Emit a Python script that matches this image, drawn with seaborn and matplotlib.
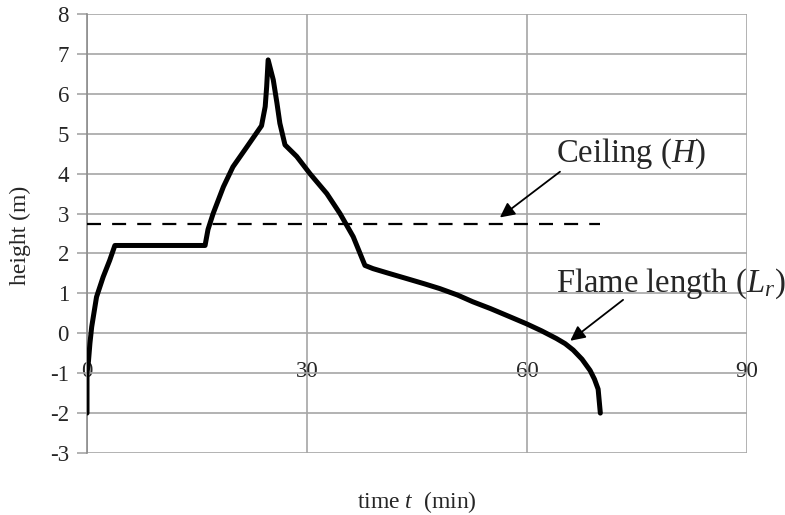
import matplotlib
matplotlib.use("Agg")
import matplotlib.pyplot as plt
import seaborn as sns
import pandas as pd

# ---- data ----
time_min = [0.0, 0.0, 0.2, 0.4, 0.64, 1.3, 2.2, 3.1, 3.8, 16.1, 16.5, 17.2, 18.6, 19.9, 21.8,
            23.8, 24.3, 24.5, 24.7, 25.4, 25.9, 26.3, 27.0, 28.6, 30.4, 32.7, 34.5, 36.3,
            37.9, 39.0, 41.0, 43.6, 46.0, 48.1, 50.5, 52.6, 55.0, 57.2, 59.9, 62.0, 64.0,
            65.2, 66.3, 67.5, 68.6, 69.2, 69.7, 70.0]
flame_length = [-2.0, -1.0, -0.7, -0.25, 0.16, 0.91, 1.41, 1.83, 2.2, 2.2, 2.6, 3.0, 3.67, 4.17, 4.67,
                5.2, 5.68, 6.18, 6.85, 6.35, 5.77, 5.26, 4.72, 4.43, 4.0, 3.5, 3.0, 2.42,
                1.7, 1.62, 1.51, 1.37, 1.24, 1.12, 0.96, 0.79, 0.62, 0.45, 0.24, 0.06, -0.13,
                -0.26, -0.42, -0.65, -0.93, -1.15, -1.4, -2.0]
ceiling_time = [0.0, 70.0]
ceiling_height = [2.73, 2.73]
x_ticks = [0, 30, 60, 90]
x_tick_labels = ["0", "30", "60", "90"]
y_ticks = [-3, -2, -1, 0, 1, 2, 3, 4, 5, 6, 7, 8]
y_tick_labels = ["-3", "-2", "-1", "0", "1", "2", "3", "4", "5", "6", "7", "8"]

sns.set_theme(style="white")
plt.rcParams["font.family"] = ["Liberation Serif", "DejaVu Serif"]
plt.rcParams["mathtext.fontset"] = "custom"
plt.rcParams["mathtext.rm"] = "Liberation Serif"
plt.rcParams["mathtext.it"] = "Liberation Serif:italic"

fig = plt.figure(figsize=(7.85, 5.15), dpi=100)
ax = fig.add_axes([87 / 785, 1 - 453 / 515, 660 / 785, 439 / 515])

grid_c = "#a6a6a6"
df = pd.DataFrame({"t": time_min, "h": flame_length})
sns.lineplot(data=df, x="t", y="h", sort=False, estimator=None, color="black",
             linewidth=3.6, ax=ax, zorder=5)
dfc = pd.DataFrame({"t": ceiling_time, "h": ceiling_height})
sns.lineplot(data=dfc, x="t", y="h", sort=False, estimator=None, color="black",
             linewidth=1.6, dashes=False, ax=ax, zorder=4)
ax.lines[-1].set_dashes([6.3, 5.0])

ax.spines["bottom"].set_position(("data", 0))
ax.spines["bottom"].set_visible(False)
for s in ["top", "right"]:
    ax.spines[s].set_visible(False)
ax.spines["left"].set_color("#8c8c8c")
ax.spines["left"].set_linewidth(1.2)

ax.set_xlim(0, 90)
ax.set_ylim(-3, 8)
ax.set_yticks(y_ticks)
ax.set_yticklabels(y_tick_labels)
ax.set_xticks(x_ticks)
ax.set_xticklabels(x_tick_labels)

ax.grid(True, color=grid_c, linewidth=1.2)
ax.set_axisbelow(True)
ax.tick_params(axis="y", length=7, width=1.2, color=grid_c, pad=6, left=True, labelsize=16.5)
ax.tick_params(axis="x", length=0, pad=20, labelsize=16.5)

ax.set_xlabel("")
ax.set_ylabel("")
fig.text(417 / 785, 1 - 502 / 515, "time $t$  (min)", ha="center", va="center", fontsize=17)
fig.text(20 / 785, 1 - 235 / 515, "height (m)", ha="center", va="center", rotation=90, fontsize=17)

ax.annotate("", xy=(56.0, 2.86), xytext=(64.8, 4.09),
            arrowprops=dict(arrowstyle="-|>", color="black", lw=1.3, mutation_scale=22))
ax.text(64.0, 4.5, "Ceiling ($H$)", fontsize=23.5, ha="left", va="center")
ax.annotate("", xy=(65.6, -0.23), xytext=(73.4, 0.88),
            arrowprops=dict(arrowstyle="-|>", color="black", lw=1.3, mutation_scale=22))
ax.text(64.0, 1.25, "Flame length ($L_r$)", fontsize=23.5, ha="left", va="center", clip_on=False)

fig.savefig("out.png", dpi=100)
